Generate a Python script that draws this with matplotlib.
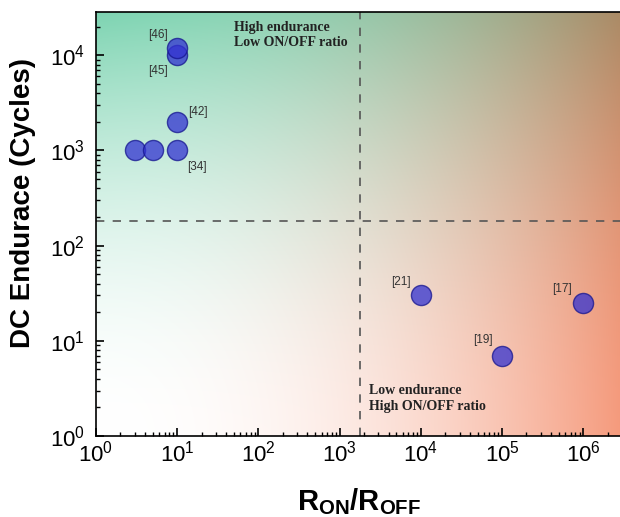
import numpy as np
import matplotlib.pyplot as plt
from matplotlib.colors import to_rgb

plt.rcParams['font.family'] = ['Liberation Sans', 'DejaVu Sans']
plt.rcParams['mathtext.fontset'] = 'custom'
plt.rcParams['mathtext.rm'] = 'Liberation Sans'
plt.rcParams['mathtext.bf'] = 'Liberation Sans:bold'

# ---------------- DATA ---------------- #
ratio = [3, 5, 10, 10, 10, 10, 1e4, 1e5, 1e6]
endurance = [1000, 1000, 1000, 2000, 10000, 12000, 30, 7, 25]

ref_labels = ['[34]', '[42]', '[45]', '[46]', '[21]', '[19]', '[17]']
ref_x = [10, 10, 10, 10, 1e4, 1e5, 1e6]
ref_y = [1000, 2000, 10000, 12000, 30, 7, 25]
ref_offsets = [(14, -12), (15, 7), (-14, -11), (-14, 9), (-14, 10), (-14, 11), (-15, 10)]

x_split = 1800
y_split = 180

XLIM = (1, 3e6)
YLIM = (1, 2.85e4)

# ---------------- BACKGROUND ---------------- #
GREEN = np.array(to_rgb('#7ed4b2'))
ORANGE = np.array(to_rgb('#f59a7c'))

def background(n=300):
    # green tint from the top-left, salmon tint growing to the right,
    # multiplied so the top-right corner turns brown
    u = np.linspace(0, 1, n)[None, :, None]
    v = np.linspace(1, 0, n)[:, None, None]
    wg = v ** 1.9 * (1 - 0.4 * u)
    wo = u ** 2.1
    img = (1 - wg * (1 - GREEN)) * (1 - wo * (1 - ORANGE))
    return np.clip(img, 0, 1)

# ---------------- PLOT ---------------- #
fig = plt.figure(figsize=(6.2, 5.17), dpi=100)
ax = fig.add_axes([96 / 620, 81 / 517, 526 / 620, 424 / 517])
ax.set_xscale('log')
ax.set_yscale('log')
ax.set_xlim(*XLIM)
ax.set_ylim(*YLIM)

ax.imshow(background(), extent=[0, 1, 0, 1], transform=ax.transAxes,
          aspect='auto', zorder=0, interpolation='bilinear')

ax.axvline(x_split, color='#555555', lw=1.2, ls=(0, (5, 5)), zorder=1)
ax.axhline(y_split, color='#555555', lw=1.2, ls=(0, (5, 5)), zorder=1)

ax.scatter(ratio, endurance, s=210, facecolor=(0.2, 0.2, 0.82), alpha=0.75,
           edgecolor='#15158f', linewidth=1.0, zorder=3)

for lab, x, y, off in zip(ref_labels, ref_x, ref_y, ref_offsets):
    ax.annotate(lab, (x, y), xytext=off, textcoords='offset points',
                ha='center', va='center', fontsize=8.5, color='#333333', zorder=4)

ax.text(50, 2.3e4, 'High endurance\nLow ON/OFF ratio', family='Liberation Serif',
        fontsize=10, color='#222222', va='top', ha='left', linespacing=1.25,
        fontweight='bold', zorder=4)
ax.text(2300, 3.5, 'Low endurance\nHigh ON/OFF ratio', family='Liberation Serif',
        fontsize=10, color='#222222', va='top', ha='left', linespacing=1.25,
        fontweight='bold', zorder=4)

ax.set_xticks([10.0 ** k for k in range(7)])
ax.set_yticks([10.0 ** k for k in range(5)])
ax.tick_params(which='both', direction='in', top=False, right=False)
ax.tick_params(which='major', length=6, width=1.2, labelsize=16)
ax.tick_params(axis='y', which='major', pad=8)
ax.tick_params(which='minor', length=3, width=1)
for s in ax.spines.values():
    s.set_linewidth(1.2)

ax.set_xlabel(r'$\mathbf{R_{ON}/R_{OFF}}$', fontsize=21, labelpad=14)
ax.set_ylabel('DC Endurace (Cycles)', fontsize=20, fontweight='bold')
ax.yaxis.set_label_coords(-0.115, 0.55)

fig.savefig('out.png', dpi=100)
